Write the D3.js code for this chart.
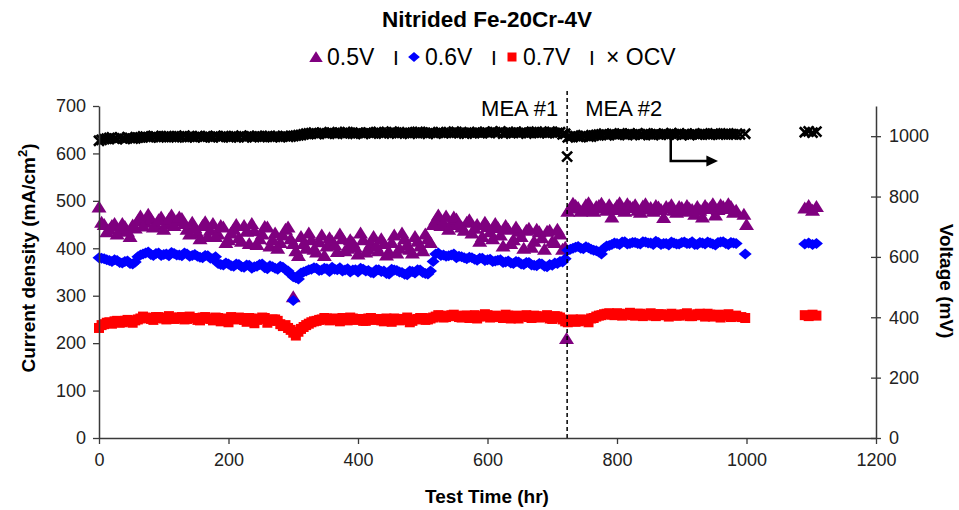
<!DOCTYPE html>
<html>
<head>
<meta charset="utf-8">
<script src="https://cdn.jsdelivr.net/npm/d3@7"></script>
<style>
  body { margin: 0; background: #fff; }
  svg { font-family: "Liberation Sans", Arial, sans-serif; }
</style>
</head>
<body>
<div id="chart"></div>
<script>
var width = 959;
var height = 510;

// test time (hr), first set of readings
var hours = [0, 8, 16, 24, 32, 40, 48, 56, 64, 72, 80, 88, 96, 104, 112, 120, 128, 136, 144, 152,
  160, 168, 176, 184, 192, 200, 208, 216, 224, 232, 240, 248, 256, 264, 272, 280, 288, 296, 304, 312,
  320, 328, 336, 344, 352, 360, 368, 376, 384, 392, 400, 408, 416, 424, 432, 440, 448, 456, 464, 472,
  480, 488, 496, 504, 512, 520, 528, 536, 544, 552, 560, 568, 576, 584, 592, 600, 608, 616, 624, 632,
  640, 648, 656, 664, 672, 680, 688, 696, 704, 712, 720, 728, 736, 744, 752, 760, 768, 776, 784, 792,
  800, 808, 816, 824, 832, 840, 848, 856, 864, 872, 880, 888, 896, 904, 912, 920, 928, 936, 944, 952,
  960, 968, 976, 984];

// test time (hr), second set of readings
var hoursB = [4, 12, 20, 28, 36, 44, 52, 60, 68, 76, 84, 92, 100, 108, 116, 124, 132, 140, 148, 156,
  164, 172, 180, 188, 196, 204, 212, 220, 228, 236, 244, 252, 260, 268, 276, 284, 292, 300, 308, 316,
  324, 332, 340, 348, 356, 364, 372, 380, 388, 396, 404, 412, 420, 428, 436, 444, 452, 460, 468, 476,
  484, 492, 500, 508, 516, 524, 532, 540, 548, 556, 564, 572, 580, 588, 596, 604, 612, 620, 628, 636,
  644, 652, 660, 668, 676, 684, 692, 700, 708, 716, 724, 732, 740, 748, 756, 764, 772, 780, 788, 796,
  804, 812, 820, 828, 836, 844, 852, 860, 868, 876, 884, 892, 900, 908, 916, 924, 932, 940, 948, 956,
  964, 972, 980];

// current density (mA/cm2) at 0.5 V
var v05 = [487, 450, 440, 452, 438, 446, 425, 443, 468, 455, 462, 450, 466, 452, 470, 458, 463, 440, 455, 432,
  448, 425, 452, 430, 445, 418, 440, 422, 448, 410, 437, 420, 446, 405, 432, 412, 440, 420, 395, 425,
  400, 418, 392, 428, 405, 415, 393, 420, 400, 412, 388, 418, 398, 425, 395, 410, 392, 428, 400, 420,
  398, 425, 405, 430, 412, 460, 448, 468, 452, 462, 445, 455, 432, 450, 425, 446, 420, 444, 405, 440,
  418, 436, 400, 442, 415, 435, 398, 438, 412, 430, 402, 485, 490, 478, 492, 483, 488, 495, 480, 466,
  490, 484, 494, 486, 480, 489, 483, 478, 487, 465, 485, 480, 488, 478, 484, 472, 480, 490, 486, 470,
  492, 484, 488, 480];
var v05B = [455, 435, 448, 430, 452, 436, 449, 458, 447, 472, 445, 460, 440, 462, 448, 466, 452, 430, 444, 420,
  456, 438, 425, 448, 412, 432, 450, 415, 436, 452, 408, 430, 445, 418, 400, 428, 445, 410, 385, 410,
  432, 398, 414, 385, 422, 408, 430, 395, 418, 402, 432, 392, 410, 405, 420, 386, 412, 390, 432, 408,
  390, 415, 395, 420, 450, 470, 455, 440, 466, 450, 438, 460, 442, 415, 455, 435, 452, 428, 448, 410,
  445, 425, 438, 402, 440, 422, 436, 415, 440, 398, 478, 495, 486, 480, 496, 478, 490, 485, 492, 482,
  496, 478, 488, 492, 476, 494, 486, 490, 482, 488, 492, 476, 486, 490, 482, 488, 466, 484, 494, 482,
  488, 494, 476];

// current density (mA/cm2) at 0.6 V
var v06 = [380, 378, 374, 376, 370, 372, 368, 371, 386, 390, 387, 389, 385, 388, 391, 386, 384, 388, 385, 383,
  380, 384, 378, 368, 365, 367, 362, 366, 360, 364, 361, 366, 359, 363, 358, 362, 355, 345, 338, 348,
  352, 356, 358, 354, 357, 360, 355, 352, 357, 354, 350, 356, 353, 348, 355, 352, 346, 354, 350, 345,
  352, 348, 354, 347, 352, 388, 385, 383, 386, 380, 382, 378, 380, 375, 379, 376, 372, 375, 370, 373,
  368, 371, 366, 370, 364, 368, 362, 366, 369, 372, 378, 398, 402, 400, 403, 398, 395, 388, 405, 408,
  410, 413, 409, 412, 410, 414, 411, 408, 412, 410, 407, 411, 409, 413, 410, 408, 412, 409, 411, 407,
  413, 410, 412, 410];
var v06B = [379, 376, 372, 374, 369, 373, 367, 382, 388, 392, 385, 390, 387, 384, 389, 386, 390, 383, 387, 381,
  385, 379, 382, 366, 369, 363, 367, 361, 365, 358, 362, 367, 357, 361, 356, 360, 352, 340, 335, 350,
  355, 359, 353, 358, 351, 356, 359, 354, 350, 355, 358, 352, 349, 355, 351, 347, 356, 353, 349, 344,
  351, 355, 349, 346, 372, 390, 386, 384, 388, 383, 380, 381, 377, 379, 374, 377, 373, 376, 371, 369,
  372, 367, 370, 365, 363, 367, 361, 364, 368, 371, 396, 400, 404, 399, 401, 396, 392, 400, 406, 411,
  408, 414, 410, 412, 409, 413, 411, 415, 408, 410, 413, 409, 412, 410, 414, 408, 411, 413, 409, 412,
  414, 408, 411];

// current density (mA/cm2) at 0.7 V
var v07 = [232, 240, 244, 246, 243, 247, 245, 248, 252, 254, 251, 255, 253, 250, 254, 252, 255, 251, 253, 249,
  254, 252, 248, 253, 250, 244, 252, 254, 249, 253, 242, 251, 253, 247, 250, 240, 238, 228, 216, 230,
  238, 244, 247, 250, 252, 249, 251, 253, 248, 252, 250, 247, 252, 249, 251, 246, 250, 252, 248, 251,
  244, 250, 253, 249, 252, 256, 258, 255, 259, 257, 254, 258, 256, 252, 257, 259, 255, 257, 253, 258,
  256, 252, 257, 255, 258, 254, 256, 252, 257, 254, 246, 248, 245, 250, 247, 252, 256, 259, 262, 260,
  263, 258, 261, 259, 262, 257, 260, 258, 261, 259, 256, 260, 258, 261, 257, 259, 262, 256, 260, 258,
  254, 259, 255, 258];
var v07B = [238, 243, 241, 247, 244, 249, 243, 250, 256, 253, 249, 255, 252, 257, 251, 254, 250, 256, 253, 248,
  255, 251, 254, 246, 252, 255, 250, 253, 245, 252, 249, 254, 243, 250, 247, 236, 232, 222, 224, 234,
  241, 246, 249, 253, 248, 252, 246, 250, 254, 249, 251, 247, 253, 250, 248, 252, 245, 251, 249, 254,
  247, 251, 253, 250, 254, 259, 254, 257, 260, 255, 258, 253, 259, 256, 261, 254, 258, 255, 260, 252,
  258, 256, 259, 253, 257, 255, 259, 251, 256, 250, 244, 250, 246, 249, 244, 253, 258, 261, 263, 259,
  262, 260, 264, 258, 262, 260, 263, 257, 261, 259, 262, 258, 260, 263, 257, 261, 259, 262, 256, 260,
  258, 261, 257];

// open circuit voltage (mV)
var ocv = [985, 990, 994, 992, 995, 991, 994, 993, 996, 998, 996, 999, 997, 1000, 998, 996, 999, 997, 998, 1000,
  997, 999, 996, 998, 1000, 997, 999, 998, 996, 1000, 998, 997, 999, 1001, 998, 997, 1000, 999, 1002, 1004,
  1008, 1010, 1007, 1011, 1009, 1012, 1008, 1010, 1013, 1009, 1011, 1008, 1012, 1010, 1014, 1009, 1011, 1013, 1010, 1012,
  1008, 1011, 1014, 1010, 1012, 1009, 1013, 1011, 1010, 1014, 1012, 1009, 1011, 1013, 1010, 1012, 1015, 1011, 1009, 1013,
  1012, 1010, 1014, 1011, 1013, 1010, 1012, 1015, 1011, 1013, 1008, 998, 1000, 997, 1001, 999, 1004, 1006, 1003, 1007,
  1005, 1008, 1004, 1006, 1009, 1005, 1007, 1004, 1006, 1008, 1005, 1007, 1009, 1006, 1004, 1008, 1006, 1007, 1005, 1009,
  1006, 1008, 1007, 1005];
var ocvB = [988, 992, 996, 990, 993, 997, 992, 995, 999, 997, 1001, 996, 998, 1000, 997, 999, 1002, 998, 996, 1000,
  999, 997, 1001, 998, 1000, 996, 999, 1002, 997, 999, 1001, 998, 1000, 997, 999, 1001, 998, 1000, 1003, 1006,
  1009, 1012, 1008, 1010, 1013, 1009, 1011, 1014, 1010, 1008, 1012, 1011, 1009, 1013, 1010, 1012, 1015, 1009, 1011, 1013,
  1010, 1014, 1012, 1008, 1011, 1013, 1010, 1012, 1015, 1011, 1009, 1013, 1012, 1010, 1014, 1011, 1013, 1016, 1010, 1012,
  1014, 1011, 1009, 1013, 1015, 1012, 1010, 1014, 1011, 1006, 996, 1002, 998, 1003, 999, 1002, 1005, 1008, 1004, 1007,
  1009, 1005, 1008, 1006, 1004, 1009, 1006, 1008, 1005, 1007, 1010, 1006, 1004, 1008, 1007, 1005, 1009, 1006, 1008, 1005,
  1007, 1009, 1006];

// scattered points (outliers, end of run, last block)
var extraHours05 = [300, 722, 996, 1000, 1090, 1096, 1102, 1108];
var extra05 = [298, 210, 472, 450, 485, 490, 480, 488];
var extraHours06 = [300, 998, 1090, 1096, 1102, 1108];
var extra06 = [290, 388, 409, 411, 408, 410];
var extraHours07 = [992, 998, 1090, 1096, 1102, 1108];
var extra07 = [255, 253, 259, 257, 260, 258];
var extraHoursOcv = [723, 990, 998, 1090, 1096, 1102, 1108];
var extraOcv = [932, 1006, 1008, 1013, 1016, 1012, 1015];

var xTicks = [0, 200, 400, 600, 800, 1000, 1200];
var yTicks = [0, 100, 200, 300, 400, 500, 600, 700];
var y2Ticks = [0, 200, 400, 600, 800, 1000];
var meaSwitch = 723;

var xScale = d3.scaleLinear().domain([0, 1200]).range([99, 876]);
var yScale = d3.scaleLinear().domain([0, 700]).range([438, 106]);
var y2Scale = d3.scaleLinear().domain([0, 1100]).range([438, 106]);

var svg = d3.select("#chart").append("svg")
    .attr("width", width)
    .attr("height", height);

// marker shapes
var triPath = "M0,-6.5L7.5,5.5L-7.5,5.5Z";
var diaPath = "M0,-5.5L6.5,0L0,5.5L-6.5,0Z";
var sqPath = "M-5,-5h10v10h-10Z";
var xPath = "M-5,-5L5,5M-5,5L5,-5";

function pairs(t, v) {
    return t.map(function(d, i) { return [d, v[i]]; });
}

var series = [
    {name: "0.5V", pts: pairs(hours, v05).concat(pairs(hoursB, v05B), pairs(extraHours05, extra05)), path: triPath, fill: "#7f007f", y: yScale},
    {name: "0.6V", pts: pairs(hours, v06).concat(pairs(hoursB, v06B), pairs(extraHours06, extra06)), path: diaPath, fill: "#0000ff", y: yScale},
    {name: "0.7V", pts: pairs(hours, v07).concat(pairs(hoursB, v07B), pairs(extraHours07, extra07)), path: sqPath, fill: "#ff0000", y: yScale},
    {name: "OCV", pts: pairs(hours, ocv).concat(pairs(hoursB, ocvB), pairs(extraHoursOcv, extraOcv)), path: xPath, fill: "none", y: y2Scale}
];

series.forEach(function(s) {
    svg.append("g").selectAll("path")
        .data(s.pts)
        .enter()
        .append("path")
        .attr("d", s.path)
        .attr("transform", function(d) { return "translate(" + xScale(d[0]) + "," + s.y(d[1]) + ")"; })
        .attr("fill", s.fill)
        .attr("stroke", s.fill === "none" ? "#000" : "none")
        .attr("stroke-width", 2.6);
});

// MEA change line
svg.append("line")
    .attr("x1", xScale(meaSwitch)).attr("x2", xScale(meaSwitch))
    .attr("y1", yScale(0)).attr("y2", yScale(700) - 18)
    .attr("stroke", "#000")
    .attr("stroke-width", 1.5)
    .attr("stroke-dasharray", "4,3");

svg.append("text")
    .attr("x", xScale(meaSwitch) - 9).attr("y", 116)
    .attr("text-anchor", "end")
    .style("font-size", "22px")
    .text("MEA #1");
svg.append("text")
    .attr("x", xScale(meaSwitch) + 18).attr("y", 116)
    .style("font-size", "22px")
    .text("MEA #2");

// arrow pointing to the right axis
svg.append("path")
    .attr("d", "M" + xScale(883) + "," + y2Scale(1012) + "V" + y2Scale(918) + "H" + xScale(940))
    .attr("fill", "none")
    .attr("stroke", "#000")
    .attr("stroke-width", 2.5);
svg.append("path")
    .attr("d", "M" + xScale(938) + "," + (y2Scale(918) - 5.5) + "L" + xScale(956) + "," + y2Scale(918) + "L" + xScale(938) + "," + (y2Scale(918) + 5.5) + "Z")
    .attr("fill", "#000");

// axes
var axisColor = "#3a3a3a";
var fmt = d3.format("d");
var xAxis = d3.axisBottom(xScale).tickValues(xTicks).tickFormat(fmt).tickSize(6).tickSizeOuter(0).tickPadding(9);
var yAxis = d3.axisLeft(yScale).tickValues(yTicks).tickFormat(fmt).tickSize(6).tickSizeOuter(0).tickPadding(7);
var y2Axis = d3.axisRight(y2Scale).tickValues(y2Ticks).tickFormat(fmt).tickSize(5).tickSizeOuter(0).tickPadding(8);

var gx = svg.append("g").attr("transform", "translate(0," + yScale(0) + ")").call(xAxis);
var gy = svg.append("g").attr("transform", "translate(" + xScale(0) + ",0)").call(yAxis);
var gy2 = svg.append("g").attr("transform", "translate(" + xScale(1200) + ",0)").call(y2Axis);
gy2.selectAll(".tick line").attr("x1", -5);

[gx, gy, gy2].forEach(function(g) {
    g.select(".domain").attr("stroke", axisColor).attr("stroke-width", 1.5);
    g.selectAll(".tick line").attr("stroke", axisColor).attr("stroke-width", 1.3);
    g.selectAll(".tick text")
        .attr("fill", "#222")
        .style("font-size", "18px")
        .style("font-family", "'Liberation Sans', Arial, sans-serif");
});

// titles
svg.append("text")
    .attr("x", 487).attr("y", 27)
    .attr("text-anchor", "middle")
    .style("font-size", "22.5px").style("font-weight", "bold")
    .text("Nitrided Fe-20Cr-4V");

svg.append("text")
    .attr("x", 487).attr("y", 503)
    .attr("text-anchor", "middle")
    .style("font-size", "19px").style("font-weight", "bold")
    .text("Test Time (hr)");

var yTitle = svg.append("text")
    .attr("transform", "translate(35,258) rotate(-90)")
    .attr("text-anchor", "middle")
    .style("font-size", "19px").style("font-weight", "bold");
yTitle.append("tspan").text("Current density (mA/cm");
yTitle.append("tspan").attr("dy", -8).style("font-size", "13px").text("2");
yTitle.append("tspan").attr("dy", 8).text(")");

svg.append("text")
    .attr("transform", "translate(940,281) rotate(90)")
    .attr("text-anchor", "middle")
    .style("font-size", "19px").style("font-weight", "bold")
    .text("Voltage (mV)");

// legend
var legendItems = [
    {label: "0.5V", path: triPath, fill: "#7f007f", x: 316},
    {label: "0.6V", path: diaPath, fill: "#0000ff", x: 414},
    {label: "0.7V", path: sqPath, fill: "#ff0000", x: 512}
];
var legendY = 57;
legendItems.forEach(function(d) {
    svg.append("path")
        .attr("d", d.path)
        .attr("transform", "translate(" + d.x + "," + legendY + ") scale(0.9)")
        .attr("fill", d.fill);
    svg.append("text")
        .attr("x", d.x + 11).attr("y", legendY + 8)
        .style("font-size", "23px")
        .text(d.label);
    svg.append("text")
        .attr("x", d.x + 80).attr("y", legendY + 8)
        .attr("text-anchor", "middle")
        .style("font-size", "21px")
        .text("I");
});
svg.append("text")
    .attr("x", 606).attr("y", legendY + 8)
    .style("font-size", "23px")
    .text("\u00d7 OCV");
</script>
</body>
</html>
